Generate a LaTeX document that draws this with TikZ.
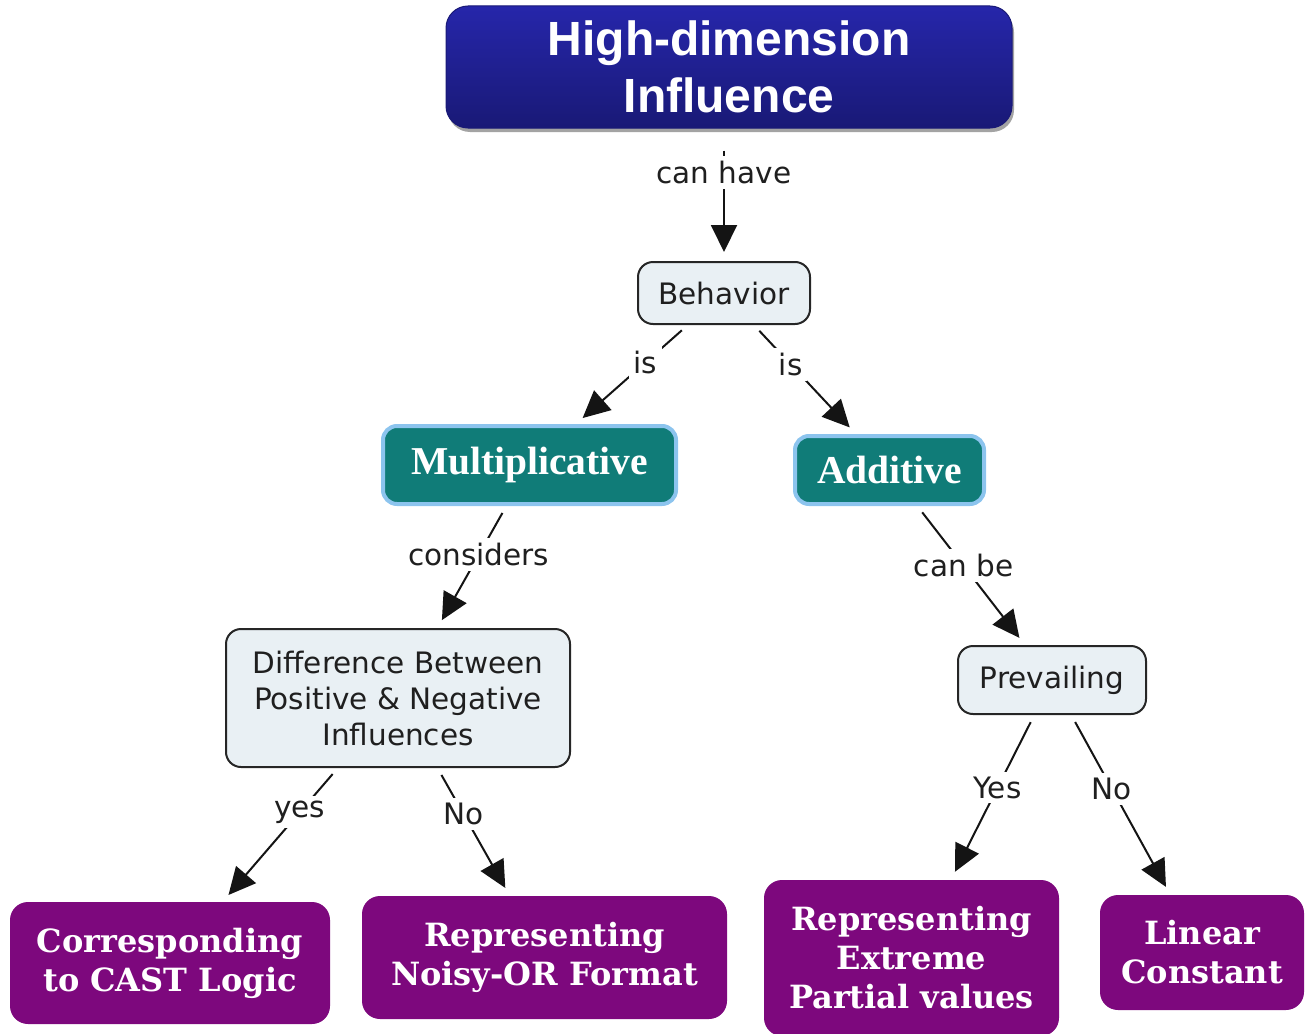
\documentclass[tikz,border=0pt]{standalone}
\usepackage{fontspec}
\usetikzlibrary{arrows.meta,shadows}
\newfontfamily\lblfont{DejaVu Sans}
\newfontfamily\ttlfont{Liberation Sans}
\newfontfamily\tealfont{Liberation Serif}
\newfontfamily\purpfont{DejaVu Serif}
\definecolor{ttltop}{RGB}{38,38,170}
\definecolor{ttlbot}{RGB}{25,25,118}
\definecolor{tealfill}{RGB}{16,124,120}
\definecolor{tealedge}{RGB}{140,196,238}
\definecolor{purpfill}{RGB}{125,8,125}
\definecolor{conceptfill}{RGB}{233,240,244}
\definecolor{conceptedge}{RGB}{38,38,38}
\definecolor{linkcol}{RGB}{20,20,20}
\begin{document}
\begin{tikzpicture}[x=1pt,y=-1pt,
  titlebox/.style={rectangle, rounded corners=22pt, top color=ttltop, bottom color=ttlbot,
     draw=ttlbot, line width=1pt, text=white, align=center, inner sep=0pt,
     font=\ttlfont\bfseries\fontsize{48}{57}\selectfont,
     drop shadow={shadow xshift=2pt, shadow yshift=-4pt, fill=black!45, opacity=0.8}},
  concept/.style={rectangle, rounded corners=15pt, fill=conceptfill, draw=conceptedge,
     line width=2pt, align=center, inner sep=0pt, text=black!88,
     font=\lblfont\fontsize{29.5}{36}\selectfont},
  tealbox/.style={rectangle, rounded corners=14pt, fill=tealfill, draw=tealedge,
     line width=4pt, text=white, align=center, inner sep=0pt,
     font=\tealfont\bfseries\fontsize{39.5}{44}\selectfont},
  purpbox/.style={rectangle, rounded corners=18pt, fill=purpfill, text=white,
     align=center, inner sep=0pt,
     font=\purpfont\bfseries\fontsize{32}{39}\selectfont},
  conn/.style={draw=linkcol, line width=2pt, -{Triangle[length=27pt,width=26pt]},
     shorten <=8pt, shorten >=9pt},
  lbl/.style={fill=white, inner sep=5pt, text=black!88,
     font=\lblfont\fontsize{29.5}{34}\selectfont}
]
\useasboundingbox (0,0) rectangle (1305,1033);

\node[titlebox, minimum width=566pt, minimum height=122pt] (title) at (729,67)
  {High-dimension\\Influence};
\node[concept, minimum width=172pt, minimum height=62pt] (b) at (724,293) {Behavior};
\node[tealbox, minimum width=293pt, minimum height=78pt] (mult) at (529.5,465) {Multiplicative};
\node[tealbox, minimum width=189pt, minimum height=68pt] (add) at (889.5,470) {Additive};
\node[concept, minimum width=344pt, minimum height=138pt] (diff) at (398,698)
  {Difference Between\\Positive \& Negative\\Influences};
\node[concept, minimum width=188pt, minimum height=68pt] (prev) at (1052,680) {Prevailing};
\node[purpbox, minimum width=320pt, minimum height=122pt] (corr) at (170,963)
  {Corresponding\\to CAST Logic};
\node[purpbox, minimum width=365pt, minimum height=123pt] (noisy) at (544.5,957.5)
  {Representing\\Noisy-OR Format};
\node[purpbox, minimum width=295pt, minimum height=156pt] (extr) at (911.5,958)
  {Representing\\Extreme\\Partial values};
\node[purpbox, minimum width=204pt, minimum height=115pt] (lin) at (1202,952.5)
  {Linear\\Constant};

\draw[conn, shorten <=22pt] (b.north |- title.south) -- node[lbl, pos=0.33] {can have} (b.north);
\draw[conn] (b) -- node[lbl, pos=0.38] {is} (mult);
\draw[conn] (b) -- node[lbl, pos=0.36] {is} (add);
\draw[conn] (mult) -- node[lbl, pos=0.4] {considers} (diff);
\draw[conn] (add) -- node[lbl, pos=0.43] {can be} (prev);
\draw[conn] (diff) -- node[lbl, pos=0.33] {yes} (corr);
\draw[conn] (diff) -- node[lbl, pos=0.36] {No} (noisy);
\draw[conn] (prev) -- node[lbl, pos=0.44] {Yes} (extr);
\draw[conn] (prev) -- node[lbl, pos=0.41] {No} (lin);
\end{tikzpicture}
\end{document}
